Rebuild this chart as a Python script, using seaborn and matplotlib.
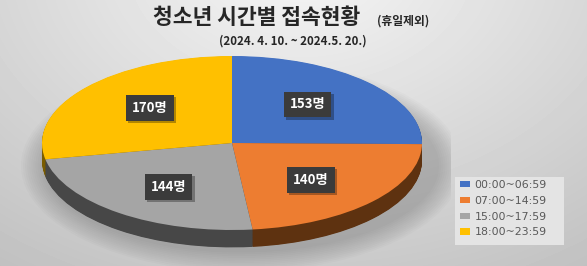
import numpy as np
import matplotlib
matplotlib.use("Agg")
import matplotlib.pyplot as plt
import matplotlib.patheffects as pe
import seaborn as sns
from matplotlib.patches import Ellipse, Patch, Rectangle

sns.set_theme(style="white")
plt.rcParams['font.family'] = ['Noto Sans CJK KR', 'DejaVu Sans']

categories = ["00:00~06:59", "07:00~14:59", "15:00~17:59", "18:00~23:59"]
values = [153, 140, 144, 170]
unit = "명"
title = "청소년 시간별 접속현황"
title_note = "(휴일제외)"
subtitle = "(2024. 4. 10. ~ 2024.5. 20.)"

top_colors = ["#4472C4", "#ED7D31", "#A5A5A5", "#FFC000"]
side_colors = ["#233d6e", "#5e3210", "#474747", "#7a5c00"]

W, H = 587, 266
fig = plt.figure(figsize=(W / 100, H / 100), dpi=100)

# background gradient
bg = fig.add_axes([0, 0, 1, 1])
yy, xx = np.mgrid[0:H, 0:W]
d = np.sqrt(((xx - 300) / 420.0) ** 2 + ((yy + 40) / 300.0) ** 2)
img = 0.965 - 0.17 * np.clip(d, 0, 1.3)
bg.imshow(img, cmap="gray", vmin=0, vmax=1, extent=[0, W, H, 0], aspect="auto")
# legend background panel
bg.add_patch(Rectangle((455, 177), 109, 68, facecolor="#e4e4e4", edgecolor="none", zorder=3))
bg.set_xlim(0, W)
bg.set_ylim(H, 0)
bg.axis("off")

# pie axes: ellipse center (232,143) px from top, semi axes 190 x 87 px
cx, cy = 232, 143
ax_, ay_ = 190.0, 87.0
xl = (-1.15, 1.15)
yl = (-1.45, 1.15)
left = cx + xl[0] * ax_
right = cx + xl[1] * ax_
bottom = (H - cy) + yl[0] * ay_
top = (H - cy) + yl[1] * ay_
ax = fig.add_axes([left / W, bottom / H, (right - left) / W, (top - bottom) / H])
ax.patch.set_alpha(0)

# soft shadow
for i in range(12):
    e = Ellipse((0.05, -0.26), 2.08 + i * 0.022, 2.0 + i * 0.04, facecolor="black",
                alpha=0.016, linewidth=0, zorder=0)
    ax.add_patch(e)

depth = 0.2
n_layers = 30
for k in range(n_layers):
    dy = -depth + depth * k / n_layers
    ax.pie(values, colors=side_colors, startangle=90, counterclock=False,
           center=(0, dy), radius=1,
           wedgeprops=dict(linewidth=0, antialiased=True), frame=True)

wedges, _ = ax.pie(values, colors=top_colors, startangle=90, counterclock=False,
                   center=(0, 0), radius=1, wedgeprops=dict(linewidth=0), frame=True)

for w, v in zip(wedges, values):
    ang = np.deg2rad((w.theta1 + w.theta2) / 2)
    x, y = 0.56 * np.cos(ang), 0.63 * np.sin(ang)
    t = ax.text(x, y, f"{v}{unit}", ha="center", va="center", fontsize=9.5,
                fontweight="bold", color="white",
                bbox=dict(boxstyle="square,pad=0.45", facecolor="#3b3b3b", edgecolor="none"),
                zorder=6)
    t.get_bbox_patch().set_path_effects([
        pe.SimplePatchShadow(offset=(1.5, -1.5), shadow_rgbFace="black", alpha=0.3),
        pe.Normal()])

ax.set_xlim(*xl)
ax.set_ylim(*yl)
ax.set_aspect("auto")
ax.axis("off")

# titles
fig.text(257 / W, 1 - 18 / H, title, ha="center", va="center", fontsize=15.5,
         fontweight="bold", color="#262626")
fig.text(377 / W, 1 - 21 / H, title_note, ha="left", va="center", fontsize=8.5,
         fontweight="bold", color="#262626")
fig.text(293 / W, 1 - 41 / H, subtitle, ha="center", va="center", fontsize=8.3,
         fontweight="bold", color="#262626")

handles = [Patch(facecolor=c, edgecolor="none") for c in top_colors]
leg = fig.legend(handles, categories, loc="upper left",
                 bbox_to_anchor=(458 / W, 1 - 178 / H), frameon=False,
                 handlelength=0.85, handleheight=0.5, handletextpad=0.45,
                 labelspacing=0.52, borderpad=0.2, borderaxespad=0,
                 prop={'family': ['DejaVu Sans'], 'size': 7.9})
for t in leg.get_texts():
    t.set_color("#595959")

fig.savefig("out.png", dpi=100)
